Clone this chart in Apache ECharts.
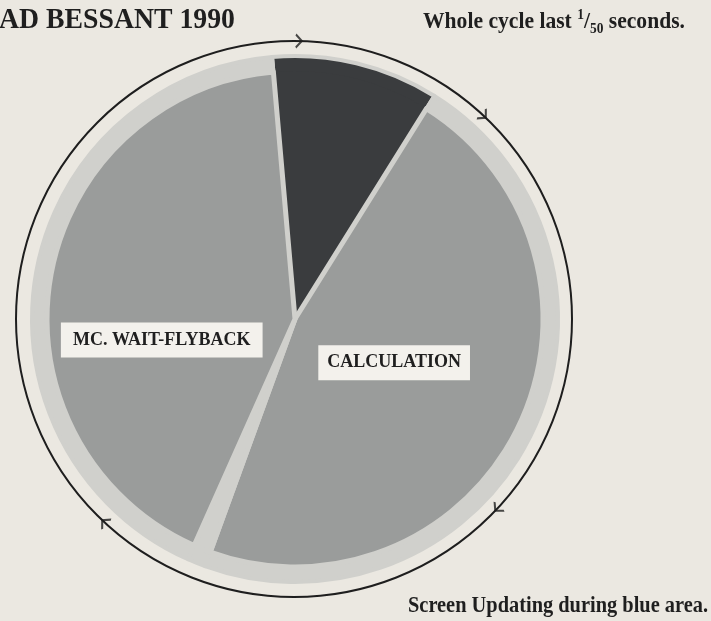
<!DOCTYPE html>
<html>
<head>
<meta charset="utf-8">
<script src="https://cdn.jsdelivr.net/npm/echarts@6/dist/echarts.min.js"></script>
<style>
html,body{margin:0;padding:0;background:#ebe8e1;}
#chart{width:711px;height:621px;}
</style>
</head>
<body>
<div id="chart"></div>
<script>
// Slices in degrees of the 1/50 s cycle, clockwise from the top
const sliceNames = ['Screen Updating', 'CALCULATION', 'Gap', 'MC. WAIT-FLYBACK'];
const sliceValues = [37, 168, 4, 151];
const sliceLabels = ['', 'CALCULATION', '', 'MC. WAIT-FLYBACK'];
const pieStartAngle = 95;
// Arrow positions on the cycle circle (degrees clockwise from the top)
const arrowAngles = [1, 43, 133, 223];
const titleText = 'AD BESSANT 1990';
const bottomText = 'Screen Updating during blue area.';

const COL_BG = '#ebe8e1';
const COL_DARK = '#3a3c3e';
const COL_GRAY = '#9a9c9b';
const COL_RING = '#d0d0cc';
const COL_TEXT = '#1f1f1f';
const FAM = '"Liberation Serif", "DejaVu Serif", serif';

const ctx = document.createElement('canvas').getContext('2d');
function textW(t, size) { ctx.font = 'bold ' + size + 'px ' + FAM; return ctx.measureText(t).width; }

// label font size chosen so the label widths match the reference
const labelSize = Math.round(22 * 178 / textW('MC. WAIT-FLYBACK', 22) * 10) / 10;
const labelPads = [null, [9, 9, 8, 9], null, [9, 12, 8, 12]];
const labelOffsets = [[0,0], [-15,-12], [0,0], [-8,42]];

const outerColors = [COL_DARK, COL_RING, COL_RING, COL_RING];
const innerColors = [COL_DARK, COL_GRAY, COL_RING, COL_GRAY];

const chart = echarts.init(document.getElementById('chart'), null, {renderer: 'canvas'});

const outerData = sliceNames.map((n, i) => ({
  name: n, value: sliceValues[i],
  itemStyle: {color: outerColors[i]}
}));
const innerData = sliceNames.map((n, i) => ({
  name: n, value: sliceValues[i],
  itemStyle: i === 0 ? {color: innerColors[i], borderWidth: 0} : {color: innerColors[i]},
  label: sliceLabels[i] ? {
    show: true, formatter: sliceLabels[i], offset: labelOffsets[i], padding: labelPads[i]
  } : {show: false}
}));

// title / notes scaled horizontally to mimic the condensed typeface
const titleSize = 30, noteSize = 22.5, bottomSize = 22.5;
const titleScale = 236 / textW(titleText, titleSize);
const bottomScale = 300 / textW(bottomText, bottomSize);
const noteW = textW('Whole cycle last ', noteSize) + textW('1', 14) + textW('/', noteSize)
  + textW('50', 14) + textW(' seconds.', noteSize);
const noteScale = 262 / noteW;

chart.setOption({
  backgroundColor: COL_BG,
  animation: false,
  polar: {center: [294, 319], radius: 278},
  angleAxis: {
    type: 'value', min: 0, max: 360, startAngle: 90, clockwise: true,
    axisLine: {show: true, lineStyle: {color: '#1e1e1e', width: 2}},
    axisTick: {show: false}, axisLabel: {show: false}, splitLine: {show: false}
  },
  radiusAxis: {type: 'value', min: 0, max: 1, show: false,
    axisLine: {show: false}, axisTick: {show: false}, axisLabel: {show: false}, splitLine: {show: false}},
  series: [
    {
      type: 'pie', center: [295, 319], radius: [0, 263],
      startAngle: pieStartAngle, clockwise: true, silent: true,
      label: {show: false}, labelLine: {show: false},
      itemStyle: {borderColor: COL_RING, borderWidth: 4},
      data: outerData
    },
    {
      type: 'pie', center: [295, 319], radius: [0, 248],
      startAngle: pieStartAngle, clockwise: true, silent: true,
      labelLine: {show: false},
      itemStyle: {borderColor: COL_RING, borderWidth: 5},
      label: {
        position: 'inside', color: COL_TEXT, fontFamily: FAM, fontWeight: 'bold',
        fontSize: labelSize, backgroundColor: '#f3f1ec'
      },
      data: innerData
    },
    {
      type: 'scatter', coordinateSystem: 'polar', silent: true,
      symbol: 'path://M0,0L8,6L0,12', symbolSize: [9, 13], symbolKeepAspect: true,
      symbolRotate: function (v) { return -v[1]; },
      itemStyle: {color: 'rgba(0,0,0,0)', borderColor: '#1e1e1e', borderWidth: 2},
      data: arrowAngles.map(a => [1, a])
    }
  ],
  graphic: [
    {type: 'text', x: -1, y: 5, scaleX: titleScale, style: {
      text: titleText, fill: COL_TEXT, font: 'bold ' + titleSize + 'px ' + FAM,
      textAlign: 'left', textVerticalAlign: 'top'}},
    {type: 'text', x: 423, y: 8, scaleX: noteScale, style: {
      text: '{a|Whole cycle last }{sup|1}{a|/}{sub|50}{a| seconds.}', fill: COL_TEXT,
      textAlign: 'left', textVerticalAlign: 'top',
      rich: {
        a: {fontFamily: FAM, fontWeight: 'bold', fontSize: noteSize, lineHeight: 28, fill: COL_TEXT},
        sup: {fontFamily: FAM, fontWeight: 'bold', fontSize: 14, verticalAlign: 'top', fill: COL_TEXT},
        sub: {fontFamily: FAM, fontWeight: 'bold', fontSize: 14, verticalAlign: 'bottom', fill: COL_TEXT}
      }}},
    {type: 'text', x: 408, y: 595, scaleX: bottomScale, style: {
      text: bottomText, fill: COL_TEXT, font: 'bold ' + bottomSize + 'px ' + FAM,
      textAlign: 'left', textVerticalAlign: 'top'}}
  ]
});
</script>
</body>
</html>
